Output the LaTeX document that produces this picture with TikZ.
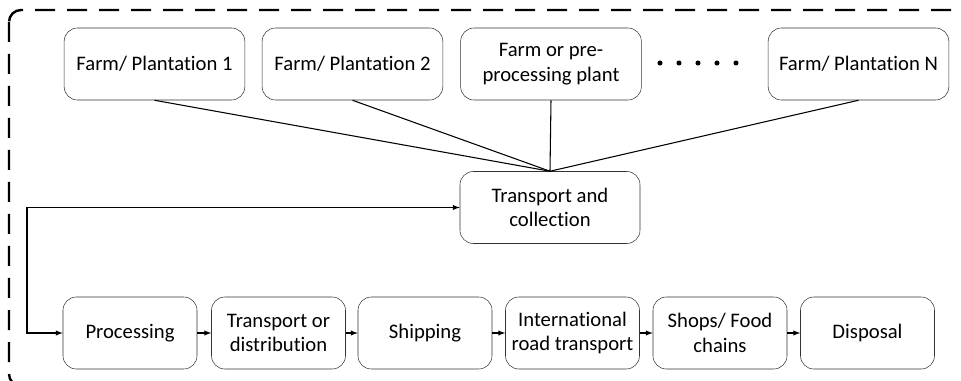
\documentclass[tikz,border=0pt]{standalone}
\usepackage{fontspec}
\setmainfont{Carlito}[Ligatures=NoCommon]
\usetikzlibrary{arrows,shapes}

\begin{document}
\begin{tikzpicture}[x=0.75pt,y=-0.75pt,
    box/.style={draw=black!80,rounded corners=10pt,minimum width=135.5pt,minimum height=54pt,
        align=center,inner sep=2pt,font=\fontsize{15.5}{18.5}\selectfont},
    stage/.style={box,minimum width=100.5pt},
    link/.style={line width=0.8pt},
    flow/.style={line width=0.8pt,-latex}]
    \useasboundingbox (0,0) rectangle (961,381);
    \draw[line width=1.8pt,dash pattern=on 15pt off 9pt,rounded corners=9pt] (9,10) rectangle (966,386);

    \node[box] (f1) at (154.5,64) {Farm/ Plantation 1};
    \node[box] (f2) at (352.5,64) {Farm/ Plantation 2};
    \node[box] (f3) at (551,64) {Farm or pre-\\processing plant};
    \node[box] (fN) at (858.5,64) {Farm/ Plantation N};
    \foreach \i in {0,...,4}
        \fill (660+19*\i,63) circle (1.9pt);
    \node[box,minimum width=135pt] (tc) at (550,207.5) {Transport and\\collection};

    \node[stage] (proc) at (130,333) {Processing};
    \node[stage] (dist) at (278.5,333) {Transport or\\distribution};
    \node[stage] (ship) at (425,333) {Shipping};
    \node[stage] (road) at (572.5,333) {International\\road transport};
    \node[stage] (shop) at (720,333) {Shops/ Food\\chains};
    \node[stage] (disp) at (867.5,333) {Disposal};

    \foreach \n in {f1,f2,f3,fN}
        \draw[link] (\n.south) -- (tc.north);
    \coordinate (lp) at (27,207.5);
    \draw[link,latex-latex] (tc.west) -- (lp) |- (proc.west);
    \foreach \a/\b in {proc/dist,dist/ship,ship/road,road/shop,shop/disp}
        \draw[flow] (\a) -- (\b);
\end{tikzpicture}
\end{document}
